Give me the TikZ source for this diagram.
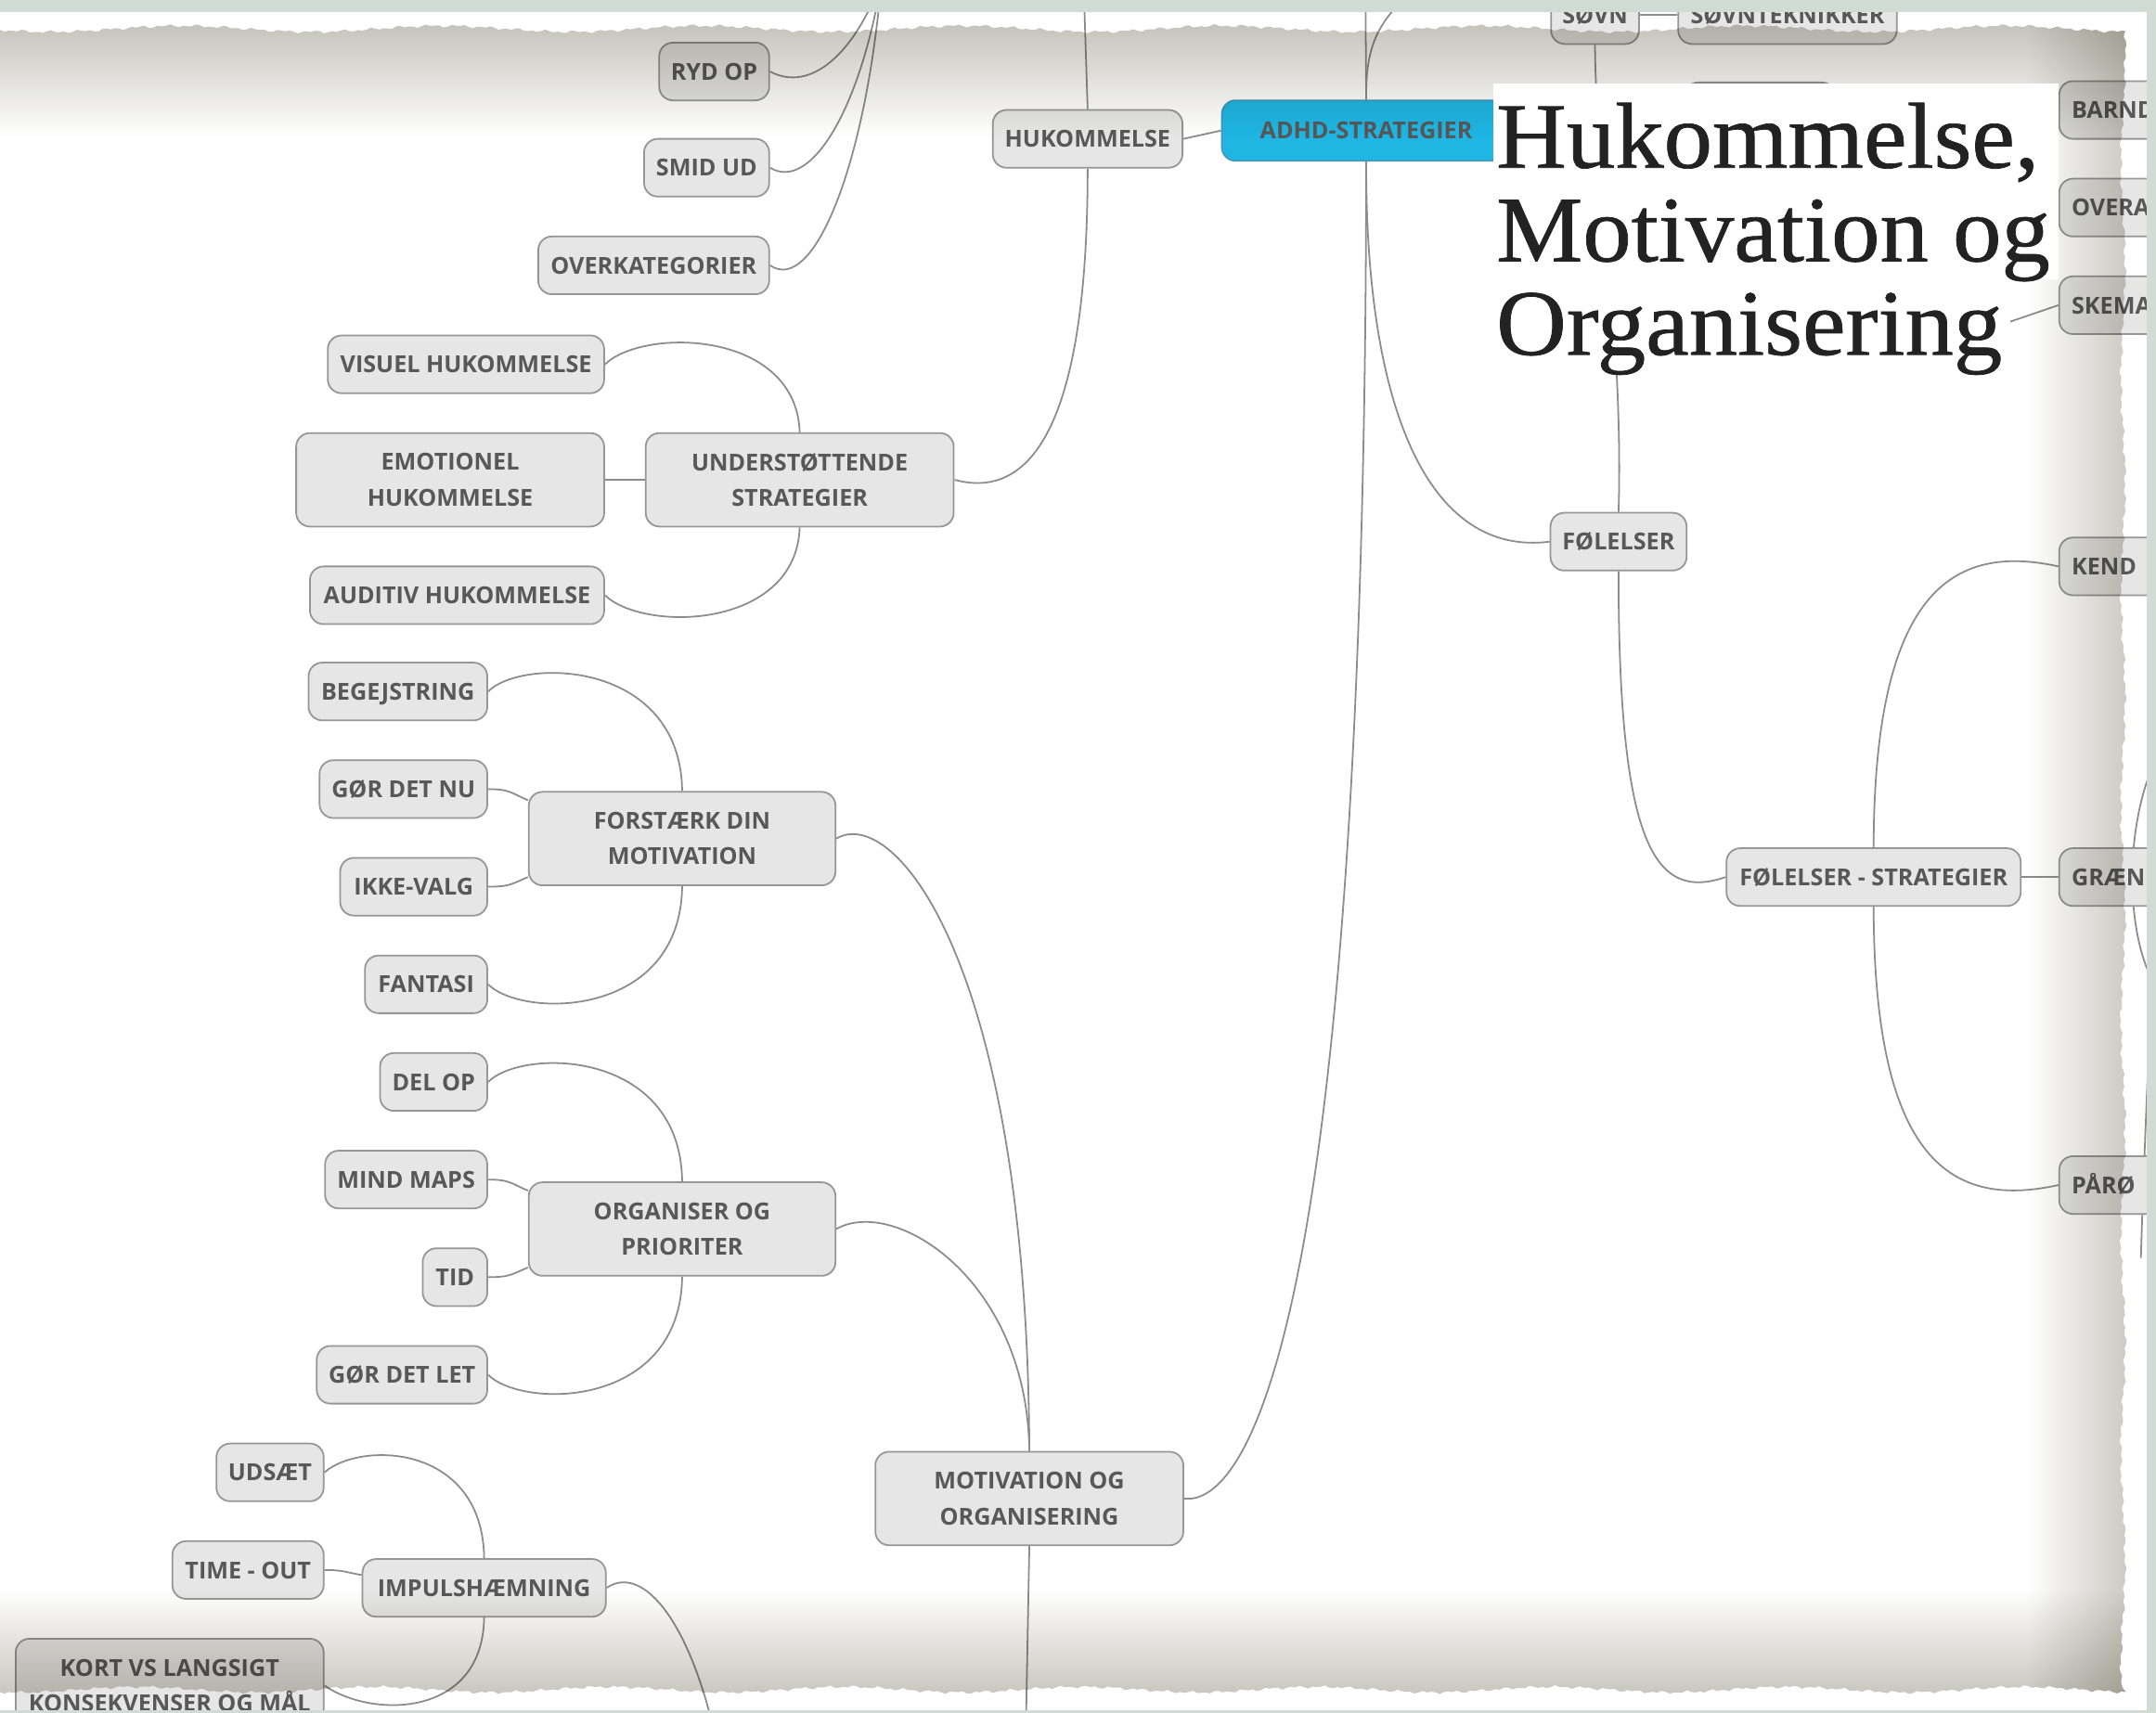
\documentclass[tikz,border=0pt]{standalone}
\usepackage{graphicx}
\usepackage{fontspec}
\setmainfont{Open Sans}
\newfontfamily\titlefont{Liberation Serif}[FakeBold=0.7]
\usetikzlibrary{calc}

\pgfdeclarelayer{paper}
\pgfdeclarelayer{links}
\pgfsetlayers{paper,links,main}

\definecolor{bandc}{RGB}{209,219,214}
\definecolor{shadowc}{RGB}{194,193,184}
\definecolor{boxfill}{RGB}{230,230,230}
\definecolor{boxline}{RGB}{150,150,150}
\definecolor{linkc}{RGB}{140,140,140}
\definecolor{txtc}{RGB}{88,88,88}
\definecolor{rootfill}{RGB}{31,182,228}
\definecolor{rootline}{RGB}{70,150,190}
\definecolor{titlec}{RGB}{34,34,34}

\newcommand\topicfont{\fontsize{17}{26}\selectfont\bfseries}

\begin{document}
\begin{tikzpicture}[x=1pt,y=-1pt,
  box/.style={draw=boxline, line width=1.2pt, fill=boxfill, rounded corners=10pt,
    inner xsep=0pt, inner ysep=0pt, font=\topicfont, text=txtc, align=center},
  topic/.style={box, minimum height=42pt, text height=12.3pt, text depth=0pt},
  twoline/.style={box, minimum height=68pt},
  root/.style={topic, fill=rootfill, draw=rootline, minimum height=44pt},
  cut/.style={topic, anchor=west, minimum width=130pt, text width=112pt, align=left, inner xsep=9pt},
  link/.style={draw=linkc, line width=1.2pt},
  titleline/.style={anchor=base west, inner sep=0pt, text=titlec,
    font=\titlefont\fontsize{68}{68}\selectfont}]

\useasboundingbox (0,0) rectangle (1568,1246);

% ---------- background and paper sheet ----------
\begin{pgfonlayer}{paper}
  \fill[bandc] (0,0) rectangle (1568,1246);
  \fill[white] (0,8.5) rectangle (1561,1244);
\end{pgfonlayer}

% ---------- topics ----------
\node[topic, anchor=east, minimum width=80pt]  (rydop)   at (560,52)  {RYD OP};
\node[topic, anchor=east, minimum width=91pt]  (smidud)  at (560,122) {SMID UD};
\node[topic, anchor=east, minimum width=168pt] (overkat) at (560,193) {OVERKATEGORIER};

\node[topic, anchor=east, minimum width=201pt]   (visuel)    at (440,265) {VISUEL HUKOMMELSE};
\node[twoline, anchor=east, minimum width=224pt] (emotionel) at (440,349) {EMOTIONEL\\HUKOMMELSE};
\node[topic, anchor=east, minimum width=214pt]   (auditiv)   at (440,433) {AUDITIV HUKOMMELSE};
\node[twoline, anchor=west, minimum width=224pt] (underst)   at (469,349) {UNDERSTØTTENDE\\STRATEGIER};

\node[topic, minimum width=138pt] (hukom) at (791,101) {HUKOMMELSE};
\node[root, anchor=west, minimum width=210pt] (adhd) at (888,95) {ADHD-STRATEGIER};

\node[topic, anchor=east, minimum width=130pt] (begej)    at (355,503) {BEGEJSTRING};
\node[topic, anchor=east, minimum width=122pt] (gordetnu) at (355,574) {GØR DET NU};
\node[topic, anchor=east, minimum width=107pt] (ikkevalg) at (355,645) {IKKE-VALG};
\node[topic, anchor=east, minimum width=89pt]  (fantasi)  at (355,716) {FANTASI};
\node[twoline, anchor=west, minimum width=223pt] (forst)  at (384,610) {FORSTÆRK DIN\\MOTIVATION};

\node[topic, anchor=east, minimum width=78pt]  (delop)     at (355,787)  {DEL OP};
\node[topic, anchor=east, minimum width=118pt] (mindmaps)  at (355,858)  {MIND MAPS};
\node[topic, anchor=east, minimum width=47pt]  (tid)       at (355,929)  {TID};
\node[topic, anchor=east, minimum width=124pt] (gordetlet) at (355,1000) {GØR DET LET};
\node[twoline, anchor=west, minimum width=223pt] (organ)   at (384,894)  {ORGANISER OG\\PRIORITER};

\node[topic, anchor=east, minimum width=78pt]  (udsaet)  at (236,1071) {UDSÆT};
\node[topic, anchor=east, minimum width=110pt] (timeout) at (236,1142) {TIME - OUT};
\node[topic, anchor=west, minimum width=177pt] (impuls)  at (263,1155) {IMPULSHÆMNING};
\node[twoline, anchor=east, minimum width=224pt] (kort)  at (236,1226) {KORT VS LANGSIGT\\KONSEKVENSER OG MÅL};

\node[twoline, anchor=west, minimum width=224pt] (motiv) at (636,1090) {MOTIVATION OG\\ORGANISERING};

\node[topic, anchor=west, minimum width=99pt]  (folelser) at (1127,394) {FØLELSER};
\node[topic, anchor=west, minimum width=214pt] (folstrat) at (1255,638) {FØLELSER - STRATEGIER};
\node[topic, minimum width=64pt]  (sovn)    at (1160,11) {SØVN};
\node[topic, minimum width=159pt] (sovntek) at (1300,11) {SØVNTEKNIKKER};
\node[topic, minimum width=110pt] (sovnsub) at (1280,81) {};

\node[cut] (barnd) at (1497,80)  {BARND};
\node[cut] (overa) at (1497,151) {OVERA};
\node[cut] (skema) at (1497,222) {SKEMA};
\node[cut] (kend)  at (1497,412) {KEND};
\node[cut] (graen) at (1497,638) {GRÆN};
\node[cut] (paro)  at (1497,862) {PÅRØ};

% ---------- connectors ----------
\begin{pgfonlayer}{links}
  \coordinate (orgtop) at (641,-14);
  \draw[link] (rydop.east)   .. controls (590,68)  and (622,38)  .. (orgtop);
  \draw[link] (smidud.east)  .. controls (590,140) and (626,78)  .. (orgtop);
  \draw[link] (overkat.east) .. controls (592,215) and (630,118) .. (orgtop);

  \coordinate (hukup) at (788,-14);
  \draw[link] (hukom.north) -- (hukup);
  \draw[link] (hukom.east) -- (adhd.west);
  \draw[link] (hukom.south) .. controls (791,340) and (735,360) .. (underst.east);
  \draw[link] (underst.west) -- (emotionel.east);
  \draw[link] (underst.north) .. controls (579,240) and (468,238) .. (visuel.east);
  \draw[link] (underst.south) .. controls (579,458) and (468,460) .. (auditiv.east);

  \draw[link] (forst.north) .. controls (495,480) and (380,478) .. (begej.east);
  \draw[link] (gordetnu.east) .. controls +(16,0) and +(-12,-5) .. (forst.166);
  \draw[link] (ikkevalg.east) .. controls +(16,0) and +(-12,5) .. (forst.194);
  \draw[link] (forst.south) .. controls (495,741) and (380,741) .. (fantasi.east);

  \draw[link] (organ.north) .. controls (495,763) and (380,762) .. (delop.east);
  \draw[link] (mindmaps.east) .. controls +(16,0) and +(-12,-5) .. (organ.166);
  \draw[link] (tid.east) .. controls +(16,0) and +(-12,5) .. (organ.194);
  \draw[link] (organ.south) .. controls (495,1025) and (380,1025) .. (gordetlet.east);

  \draw[link] (forst.east) .. controls (650,585) and (747,700) .. (motiv.north);
  \draw[link] (organ.east) .. controls (650,870) and (747,930) .. (motiv.north);

  \draw[link] (impuls.north) .. controls (351,1050) and (262,1048) .. (udsaet.east);
  \draw[link] (timeout.east) .. controls +(14,0) and +(-12,-2) .. (impuls.174);
  \draw[link] (impuls.south) .. controls (351,1250) and (270,1250) .. (kort.east);
  \coordinate (impdown) at (520,1262);
  \draw[link] (impuls.east) .. controls (466,1138) and (500,1175) .. (impdown);

  \draw[link] (motiv.east) .. controls (900,1095) and (993,1000) .. (adhd.south);
  \coordinate (motdown) at (746,1262);
  \draw[link] (motiv.south) -- (motdown);

  \coordinate (adhdup) at (993,-14);
  \draw[link] (adhd.north) -- (adhdup);
  \coordinate (adhdupr) at (1045,-20);
  \draw[link] (adhd.north) .. controls (993,30) and (1003,10) .. (adhdupr);
  \draw[link] (adhd.south) .. controls (993,300) and (1040,405) .. (folelser.west);

  \draw[link] (folelser.north) .. controls (1181,250) and (1160,110) .. (sovn.south);
  \draw[link] (sovn.east) -- (sovntek.west);
  \draw[link] (folelser.south) .. controls (1177,620) and (1205,655) .. (folstrat.west);

  \draw[link] (folstrat.east) -- (graen.west);
  \draw[link] (folstrat.north) .. controls (1363,430) and (1420,395) .. (kend.west);
  \draw[link] (folstrat.south) .. controls (1363,846) and (1420,879) .. (paro.west);

  \coordinate (skemafrom) at (1380,262);
  \draw[link] (skema.west) -- (skemafrom);

  \coordinate (ge1) at (1568,552);
  \coordinate (ge2) at (1568,718);
  \draw[link] (ge1) .. controls (1545,600) and (1545,680) .. (ge2);
  \coordinate (pa1) at (1562,780);
  \coordinate (pa2) at (1557,915);
  \draw[link] (pa1) .. controls (1560,830) and (1558,880) .. (pa2);
\end{pgfonlayer}

% ---------- torn paper shadow ----------
\begin{scope}[blend mode=multiply]
  \clip plot[domain=0:1546, samples=500]
      (\x, {21 + 0.7*sin(37*mod(\x,9.72973)) + 0.6*sin(17*mod(\x,21.17647)) + 2.2*sin(1.9*\x+20)})
    -- plot[domain=24:1228, samples=400]
      ({1544 + 0.7*sin(37*mod(\x,9.72973)) + 0.6*sin(13*mod(\x,27.69231)) + 1.5*sin(2.3*\x)}, \x)
    -- plot[domain=1546:0, samples=500]
      (\x, {1229 + 0.7*sin(41*mod(\x,8.78049)) + 0.6*sin(19*mod(\x,18.94737)) + 2.0*sin(2.1*\x+60)})
    -- cycle;
  \shade[top color=shadowc, middle color=white!62!shadowc, bottom color=white] (0,14) rectangle (1560,100);
  \shade[left color=white, middle color=white!62!shadowc, right color=shadowc] (1474,14) rectangle (1560,1240);
  \shade[top color=white, middle color=white!62!shadowc, bottom color=shadowc] (0,1156) rectangle (1560,1240);
\end{scope}

% ---------- title ----------
\fill[white] (1086,61) rectangle (1497,203);
\fill[white] (1086,203) rectangle (1462,272);
\node[titleline] (title1) at (1088,122) {\scalebox{1.04}[1]{Hukommelse,}};
\node[titleline] (title2) at (1088,190) {\scalebox{1.04}[1]{Motivation og}};
\node[titleline] (title3) at (1088,258) {\scalebox{1.04}[1]{Organisering}};

% ---------- frame band ----------
\fill[bandc] (0,0) rectangle (1568,8.5);
\fill[bandc] (1561,0) rectangle (1568,1246);
\fill[bandc] (0,1244) rectangle (1568,1246);
\end{tikzpicture}
\end{document}
